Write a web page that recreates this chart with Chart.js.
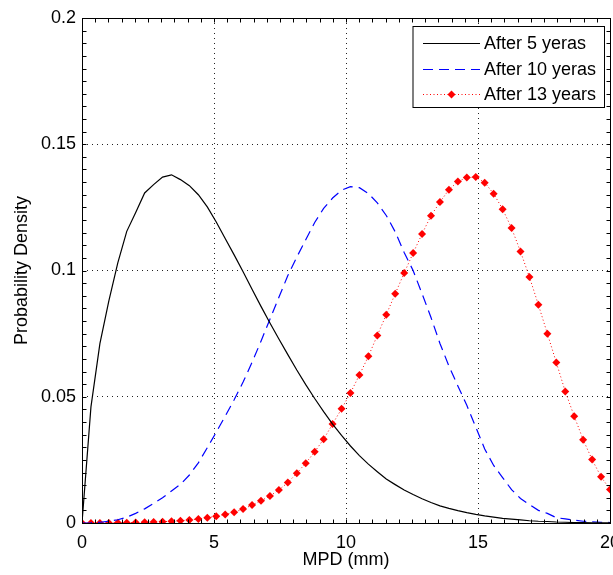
<!DOCTYPE html>
<html><head><meta charset="utf-8">
<script src="https://cdn.jsdelivr.net/npm/chart.js@4/dist/chart.umd.min.js"></script>
<style>
html,body{margin:0;padding:0;background:#fff;overflow:hidden;width:613px;height:575px;}
#wrap{position:relative;width:640px;height:575px;}
canvas{display:block;}
</style></head><body>
<div id="wrap"><canvas id="c" width="640" height="575" style="width:640px;height:575px"></canvas></div>
<script>
// MPD sample points (mm)
const mpd = [0, 0.339, 0.678, 1.017, 1.356, 1.695, 2.034, 2.373, 2.712, 3.051,
  3.390, 3.729, 4.068, 4.407, 4.746, 5.085, 5.424, 5.763, 6.102, 6.441,
  6.780, 7.119, 7.458, 7.797, 8.136, 8.475, 8.814, 9.153, 9.492, 9.831,
  10.169, 10.508, 10.847, 11.186, 11.525, 11.864, 12.203, 12.542, 12.881, 13.220,
  13.559, 13.898, 14.237, 14.576, 14.915, 15.254, 15.593, 15.932, 16.271, 16.610,
  16.949, 17.288, 17.627, 17.966, 18.305, 18.644, 18.983, 19.322, 19.661, 20];
const after5 = [0, 0.046, 0.071, 0.088, 0.103, 0.1155, 0.123, 0.1307, 0.134, 0.137,
  0.1379, 0.136, 0.1336, 0.130, 0.1252, 0.1192, 0.1127, 0.1062, 0.0995, 0.0926,
  0.0858, 0.0792, 0.0729, 0.0667, 0.0606, 0.0548, 0.0493, 0.0441, 0.0392, 0.0347,
  0.0305, 0.0267, 0.0233, 0.0203, 0.0174, 0.0152, 0.0131, 0.0113, 0.0096, 0.0081,
  0.0068, 0.0058, 0.0049, 0.0041, 0.0034, 0.0028, 0.0023, 0.0018, 0.0015, 0.0012,
  0.0009, 0.0007, 0.0006, 0.0004, 0.0003, 0.0002, 0.0002, 0.0001, 0.0001, 0.0001];
const after10 = [0, 0.0001, 0.0003, 0.0007, 0.0013, 0.0023, 0.0038, 0.0056, 0.0078, 0.0100,
  0.0127, 0.0153, 0.0190, 0.0238, 0.0298, 0.0360, 0.0423, 0.0488, 0.0558, 0.0636,
  0.0720, 0.0807, 0.0894, 0.0980, 0.1053, 0.1122, 0.1190, 0.1246, 0.1287, 0.1318,
  0.1332, 0.1328, 0.1305, 0.1268, 0.1218, 0.1153, 0.1071, 0.1000, 0.0908, 0.0814,
  0.0711, 0.0622, 0.0543, 0.0466, 0.0380, 0.0293, 0.0228, 0.0180, 0.0132, 0.0097,
  0.0073, 0.0050, 0.0038, 0.0021, 0.0016, 0.0011, 0.0007, 0.0005, 0.0003, 0.0002];
const after13 = [0, 0, 0, 0, 0.0001, 0.0001, 0.0002, 0.0003, 0.0004, 0.0005,
  0.0007, 0.0009, 0.0012, 0.0016, 0.0021, 0.0027, 0.0034, 0.0043, 0.0055, 0.0071,
  0.0088, 0.0107, 0.0131, 0.0160, 0.0197, 0.0237, 0.0282, 0.0332, 0.0392, 0.0452,
  0.0515, 0.0586, 0.0660, 0.0743, 0.0825, 0.0908, 0.0990, 0.1069, 0.1145, 0.1217,
  0.1271, 0.1320, 0.1352, 0.1368, 0.1370, 0.1348, 0.1304, 0.1243, 0.1168, 0.1075,
  0.0974, 0.0864, 0.0750, 0.0636, 0.0521, 0.0423, 0.0330, 0.0251, 0.0183, 0.0133];
const seriesLabels = ['After 5 yeras', 'After 10 yeras', 'After 13 years'];
const xTicks = [0, 5, 10, 15, 20];
const xTickLabels = ['0', '5', '10', '15', '20'];
const yTicks = [0, 0.05, 0.1, 0.15, 0.2];
const yTickLabels = ['0', '0.05', '0.1', '0.15', '0.2'];
const xTitle = 'MPD (mm)';
const yTitle = 'Probability Density';

const FONT = {family: "'Liberation Sans', Arial, Helvetica, sans-serif", size: 18};
const pts = arr => mpd.map((x, i) => ({x: x, y: arr[i]}));

const frame = {
  id: 'frame',
  afterDatasetsDraw(chart) {
    const {ctx, chartArea: a, scales: {x, y}} = chart;
    ctx.save();
    ctx.strokeStyle = '#000';
    ctx.lineWidth = 1;
    ctx.setLineDash([]);
    ctx.beginPath();
    const L = Math.round(a.left) + 0.5, R = Math.round(a.right) + 0.5;
    const T = Math.round(a.top) + 0.5, B = Math.round(a.bottom) + 0.5;
    for (let k = 0; k <= 40; k++) {
      const px = Math.round(x.getPixelForValue(k * 0.5)) + 0.5;
      ctx.moveTo(px, B); ctx.lineTo(px, B - 4);
      ctx.moveTo(px, T); ctx.lineTo(px, T + 4);
    }
    for (let k = 0; k <= 40; k++) {
      const py = Math.round(y.getPixelForValue(k * 0.005)) + 0.5;
      ctx.moveTo(L, py); ctx.lineTo(L + 4, py);
      ctx.moveTo(R, py); ctx.lineTo(R - 4, py);
    }
    ctx.stroke();
    ctx.strokeRect(L, T, R - L, B - T);
    ctx.restore();
  }
};

const legendBox = {
  id: 'legendBox',
  afterDraw(chart) {
    const {ctx, chartArea: a} = chart;
    const bx = Math.round(a.right) - 5.5, by = Math.round(a.top) + 8.5;
    const bw = 191.5, bh = 81;
    const left = bx - bw;
    ctx.save();
    ctx.fillStyle = '#fff';
    ctx.fillRect(left, by, bw, bh);
    ctx.strokeStyle = '#000';
    ctx.lineWidth = 1;
    ctx.setLineDash([]);
    ctx.strokeRect(left, by, bw, bh);
    ctx.font = FONT.size + 'px ' + FONT.family;
    ctx.textBaseline = 'middle';
    ctx.textAlign = 'left';
    chart.data.datasets.forEach((ds, i) => {
      const ry = Math.round(by + 16.5 + i * 25.5) + 0.5;
      const x0 = left + 10, x1 = left + 67;
      ctx.strokeStyle = ds.borderColor;
      ctx.lineWidth = ds.borderWidth;
      ctx.setLineDash(ds.borderDash || []);
      ctx.beginPath(); ctx.moveTo(x0, ry); ctx.lineTo(x1, ry); ctx.stroke();
      ctx.setLineDash([]);
      if (ds.pointRadius > 0) {
        const cx = (x0 + x1) / 2, r = ds.pointRadius;
        ctx.fillStyle = ds.pointBackgroundColor;
        ctx.beginPath();
        ctx.moveTo(cx, ry - r); ctx.lineTo(cx + r, ry); ctx.lineTo(cx, ry + r); ctx.lineTo(cx - r, ry);
        ctx.closePath(); ctx.fill();
      }
      ctx.fillStyle = '#000';
      ctx.fillText(ds.label, left + 71, ry + 1);
    });
    ctx.restore();
  }
};

const gridColor = (lo, hi) => c => (c.tick && (c.tick.value === lo || c.tick.value === hi)) ? 'rgba(0,0,0,0)' : '#222';

new Chart(document.getElementById('c'), {
  type: 'line',
  data: {
    datasets: [
      {label: seriesLabels[0], data: pts(after5), borderColor: '#000', borderWidth: 1.2,
       pointRadius: 0, fill: false, tension: 0},
      {label: seriesLabels[1], data: pts(after10), borderColor: 'rgb(0,0,255)', borderWidth: 1.2,
       borderDash: [10, 6], pointRadius: 0, fill: false, tension: 0},
      {label: seriesLabels[2], data: pts(after13), borderColor: 'rgb(255,0,0)', borderWidth: 1,
       borderDash: [1, 2.5], pointRadius: 4, pointStyle: 'rectRot', pointBackgroundColor: 'rgb(255,0,0)',
       pointBorderColor: 'rgb(255,0,0)', pointBorderWidth: 0, fill: false, tension: 0}
    ]
  },
  options: {
    responsive: false, animation: false, devicePixelRatio: 1,
    layout: {padding: {left: 0, top: 18, right: 30, bottom: 0}},
    plugins: {legend: {display: false}, tooltip: {enabled: false}},
    scales: {
      x: {
        type: 'linear', min: 0, max: 20,
        afterBuildTicks: s => { s.ticks = xTicks.map(v => ({value: v})); },
        afterFit: s => { s.height = 52; },
        ticks: {color: '#000', font: FONT, padding: 9, maxRotation: 0, autoSkip: false,
                callback: (v, i) => xTickLabels[i]},
        grid: {color: gridColor(0, 20), lineWidth: 1, drawTicks: false},
        border: {display: false, dash: [1, 4]},
        title: {display: true, text: xTitle, color: '#000', font: FONT, padding: {top: 0, bottom: 4}}
      },
      y: {
        type: 'linear', min: 0, max: 0.2,
        afterBuildTicks: s => { s.ticks = yTicks.map(v => ({value: v})); },
        afterFit: s => { s.width = 82; },
        ticks: {color: '#000', font: FONT, padding: 6, autoSkip: false,
                callback: (v, i) => yTickLabels[i]},
        grid: {color: gridColor(0, 0.2), lineWidth: 1, drawTicks: false},
        border: {display: false, dash: [1, 4]},
        title: {display: true, text: yTitle, color: '#000', font: FONT, padding: {top: 11, bottom: 0}}
      }
    }
  },
  plugins: [frame, legendBox]
});
</script>
</body></html>
